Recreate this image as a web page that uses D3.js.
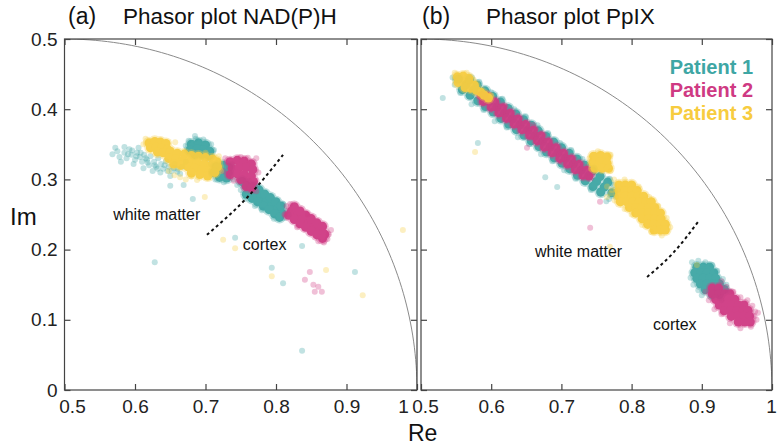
<!DOCTYPE html>
<html><head><meta charset="utf-8">
<script src="https://cdn.jsdelivr.net/npm/d3@7"></script>
<style>body{margin:0;background:#fff}svg{display:block}text{font-family:"Liberation Sans",Arial,Helvetica,sans-serif}</style>
</head><body><svg id="c" width="777" height="446"></svg>
<script>
// ---------------- data ----------------
const xTicks = [0.5, 0.6, 0.7, 0.8, 0.9, 1];
const yTicks = [0, 0.1, 0.2, 0.3, 0.4, 0.5];
const xTickLabels = ["0.5", "0.6", "0.7", "0.8", "0.9", "1"];
const yTickLabels = ["0", "0.1", "0.2", "0.3", "0.4", "0.5"];
const panelTags = ["(a)", "(b)"];
const panelTitles = ["Phasor plot NAD(P)H", "Phasor plot PpIX"];
const patients = ["Patient 1", "Patient 2", "Patient 3"];
const regionLabels = ["white matter", "cortex"];

// NAD(P)H panel — dense cores and sparse points [Re, Im]
const nadhP1Dense = [[0.680,0.350],[0.690,0.352],[0.700,0.349],[0.678,0.342],[0.688,0.343],[0.698,0.342],[0.706,0.340],[0.685,0.336],[0.695,0.336],[0.705,0.334],
 [0.715,0.318],[0.725,0.320],[0.733,0.317],[0.712,0.310],[0.722,0.311],[0.732,0.309],[0.720,0.303],[0.730,0.302],
 [0.762,0.285],[0.770,0.279],[0.778,0.274],[0.786,0.268],[0.794,0.263],[0.802,0.257],[0.808,0.252],
 [0.768,0.290],[0.776,0.285],[0.784,0.279],[0.792,0.274],[0.800,0.268],[0.807,0.262],
 [0.758,0.279],[0.766,0.273],[0.774,0.268],[0.782,0.262],[0.790,0.257],[0.798,0.251],[0.805,0.246],
 [0.757,0.292],[0.752,0.297]];
const nadhP1Sparse = [[0.568,0.336],[0.575,0.340],[0.578,0.332],[0.585,0.338],[0.588,0.330],[0.592,0.343],[0.595,0.335],[0.600,0.328],[0.603,0.338],[0.607,0.332],[0.610,0.325],[0.613,0.335],[0.617,0.328],[0.620,0.320],[0.622,0.333],[0.627,0.325],[0.630,0.318],[0.633,0.330],[0.637,0.322],[0.640,0.315],[0.644,0.326],[0.648,0.318],[0.652,0.312],[0.656,0.322],[0.660,0.315],[0.664,0.308],[0.585,0.346],[0.598,0.322],[0.612,0.316],[0.625,0.312],[0.572,0.345],[0.580,0.325],[0.605,0.345],[0.636,0.310],[0.650,0.305],[0.667,0.318],[0.672,0.325],
 [0.590,0.336],[0.602,0.333],[0.615,0.330],[0.628,0.320],[0.642,0.320],[0.655,0.316],[0.596,0.341],[0.608,0.338],[0.618,0.324],[0.632,0.315],[0.646,0.312],[0.660,0.311],
 [0.672,0.348],[0.676,0.355],[0.686,0.358],[0.697,0.357],[0.708,0.350],[0.712,0.342],[0.685,0.362],
 [0.708,0.322],[0.718,0.326],[0.738,0.322],[0.740,0.300],[0.726,0.296],[0.714,0.300],
 [0.755,0.290],[0.750,0.285],[0.812,0.245],[0.815,0.255],[0.797,0.244],[0.780,0.256],[0.770,0.262],[0.756,0.272],[0.810,0.265],[0.818,0.250],[0.762,0.298],[0.745,0.292],
 [0.650,0.291],[0.682,0.272],[0.742,0.217],[0.794,0.174],[0.810,0.152],[0.837,0.205],[0.912,0.168],[0.837,0.056],[0.628,0.182],[0.669,0.292]];
const nadhP2Dense = [[0.735,0.325],[0.745,0.327],[0.755,0.326],[0.765,0.322],[0.738,0.316],[0.748,0.317],[0.758,0.317],[0.767,0.314],[0.735,0.307],[0.745,0.308],[0.755,0.307],[0.765,0.305],[0.750,0.300],[0.760,0.298],[0.768,0.297],[0.758,0.290],[0.765,0.288],
 [0.822,0.255],[0.830,0.249],[0.838,0.243],[0.846,0.238],[0.854,0.232],[0.862,0.227],[0.869,0.222],
 [0.826,0.261],[0.834,0.255],[0.842,0.249],[0.850,0.244],[0.858,0.238],[0.866,0.233],
 [0.818,0.249],[0.826,0.243],[0.834,0.237],[0.842,0.232],[0.850,0.226],[0.858,0.221],[0.866,0.216]];
const nadhP2Sparse = [[0.728,0.330],[0.772,0.330],[0.775,0.310],[0.740,0.298],[0.772,0.283],[0.725,0.312],[0.750,0.332],[0.760,0.331],
 [0.815,0.262],[0.812,0.250],[0.875,0.222],[0.873,0.215],[0.860,0.212],[0.830,0.232],[0.845,0.250],[0.820,0.265],[0.878,0.228],[0.868,0.210],
 [0.848,0.168],[0.841,0.157],[0.853,0.150],[0.860,0.147],[0.855,0.140],[0.865,0.140]];
const nadhP3Dense = [[0.620,0.352],[0.628,0.354],[0.636,0.353],[0.644,0.351],[0.622,0.345],[0.630,0.346],[0.638,0.345],[0.646,0.343],[0.632,0.339],[0.640,0.338],[0.650,0.340],
 [0.650,0.338],[0.660,0.337],[0.670,0.336],[0.680,0.334],[0.690,0.333],[0.700,0.331],[0.710,0.329],[0.716,0.325],
 [0.648,0.330],[0.658,0.329],[0.668,0.327],[0.678,0.326],[0.688,0.324],[0.698,0.322],[0.708,0.320],[0.717,0.318],
 [0.655,0.322],[0.665,0.320],[0.675,0.318],[0.685,0.316],[0.695,0.314],[0.705,0.312],[0.713,0.310],
 [0.680,0.309],[0.692,0.307],[0.703,0.305]];
const nadhP3Sparse = [[0.648,0.312],[0.656,0.306],[0.664,0.303],[0.672,0.300],[0.680,0.304],[0.688,0.299],[0.657,0.353],[0.612,0.350],[0.615,0.358],[0.700,0.338],[0.719,0.333],[0.722,0.312],
 [0.699,0.275],[0.725,0.214],[0.742,0.202],[0.794,0.162],[0.871,0.171],[0.923,0.135],[0.980,0.228]];

// PpIX panel
const ppixP1Dense = [[0.553,0.443],[0.564,0.435],[0.575,0.427],[0.586,0.419],[0.597,0.411],[0.608,0.403],[0.619,0.394],[0.630,0.386],[0.641,0.378],[0.652,0.370],[0.662,0.362],[0.673,0.354],[0.684,0.346],[0.695,0.338],[0.706,0.330],[0.717,0.322],[0.728,0.313],[0.739,0.305],[0.750,0.297],[0.761,0.289],[0.772,0.281],
 [0.569,0.442],[0.580,0.434],[0.591,0.426],[0.602,0.418],[0.613,0.410],[0.624,0.401],[0.635,0.393],[0.646,0.385],[0.657,0.377],[0.667,0.369],[0.678,0.361],[0.689,0.353],[0.700,0.345],[0.711,0.337],[0.722,0.329],[0.733,0.320],[0.744,0.312],[0.755,0.304],[0.766,0.296],
 [0.559,0.428],[0.570,0.420],[0.581,0.412],[0.592,0.404],[0.603,0.396],[0.614,0.387],[0.625,0.379],[0.636,0.371],[0.647,0.363],[0.657,0.355],[0.668,0.347],[0.679,0.339],[0.690,0.331],[0.701,0.323],[0.712,0.315],[0.723,0.306],[0.734,0.298],[0.745,0.290],[0.756,0.282],
 [0.893,0.175],[0.902,0.175],[0.911,0.175],[0.890,0.167],[0.899,0.167],[0.908,0.167],[0.917,0.167],[0.893,0.159],[0.902,0.159],[0.911,0.159],[0.920,0.159],[0.898,0.151],[0.907,0.151],[0.916,0.151],[0.925,0.151],[0.905,0.143],[0.914,0.143],[0.923,0.143],[0.932,0.143],[0.915,0.136],[0.925,0.136]];
const ppixP1Sparse = [[0.531,0.416],[0.581,0.352],[0.677,0.303],[0.694,0.289],
 [0.583,0.439],[0.616,0.415],[0.649,0.390],[0.681,0.366],[0.714,0.342],[0.747,0.317],[0.769,0.301],
 [0.556,0.423],[0.589,0.399],[0.622,0.374],[0.654,0.350],[0.687,0.326],[0.720,0.301],[0.742,0.285],[0.764,0.269],
 [0.600,0.424],[0.633,0.400],[0.666,0.377],[0.698,0.352],[0.730,0.329],[0.572,0.407],[0.605,0.383],[0.638,0.360],[0.671,0.336],[0.704,0.313],
 [0.778,0.275],[0.780,0.285],[0.775,0.292],[0.768,0.272],[0.545,0.445],[0.548,0.435],
 [0.886,0.182],[0.895,0.184],[0.905,0.182],[0.915,0.178],[0.922,0.170],[0.884,0.160],[0.888,0.150],[0.930,0.158],[0.935,0.150],[0.895,0.142],[0.900,0.135],[0.940,0.140],[0.928,0.128]];
const ppixP2Dense = [[0.586,0.419],[0.597,0.411],[0.608,0.403],[0.619,0.394],[0.630,0.386],[0.641,0.378],[0.652,0.370],[0.662,0.362],[0.673,0.354],[0.684,0.346],[0.695,0.338],[0.706,0.330],[0.717,0.322],[0.728,0.313],[0.739,0.305],
 [0.594,0.418],[0.605,0.410],[0.616,0.402],[0.627,0.394],[0.638,0.386],[0.649,0.378],[0.660,0.370],[0.671,0.362],[0.681,0.353],[0.692,0.345],[0.703,0.337],[0.714,0.329],[0.725,0.321],[0.736,0.313],
 [0.589,0.411],[0.600,0.403],[0.611,0.395],[0.622,0.387],[0.633,0.379],[0.644,0.371],[0.655,0.363],[0.666,0.355],[0.676,0.346],[0.687,0.338],[0.698,0.330],[0.709,0.322],[0.720,0.314],[0.731,0.306],
 [0.915,0.145],[0.924,0.145],[0.915,0.137],[0.924,0.137],[0.933,0.137],[0.940,0.137],[0.920,0.129],[0.929,0.129],[0.938,0.129],[0.947,0.129],[0.925,0.121],[0.934,0.121],[0.943,0.121],[0.952,0.121],[0.960,0.121],[0.932,0.113],[0.941,0.113],[0.950,0.113],[0.959,0.113],[0.966,0.113],[0.942,0.105],[0.951,0.105],[0.960,0.105],[0.968,0.105],[0.952,0.097],[0.961,0.097],[0.969,0.097]];
const ppixP2Sparse = [[0.620,0.405],[0.660,0.378],[0.700,0.325],[0.745,0.308],[0.651,0.345],[0.755,0.268],[0.741,0.231],
 [0.905,0.140],[0.910,0.128],[0.918,0.115],[0.928,0.108],[0.940,0.095],[0.955,0.088],[0.970,0.090],[0.978,0.100],[0.980,0.110],[0.972,0.120],[0.965,0.128],[0.955,0.132],[0.945,0.140],[0.935,0.147],[0.928,0.155],[0.975,0.105],[0.976,0.112]];
const ppixP3Dense = [[0.552,0.446],[0.560,0.447],[0.568,0.444],[0.553,0.438],[0.561,0.439],[0.569,0.437],[0.576,0.434],[0.563,0.431],[0.571,0.430],[0.579,0.427],[0.585,0.424],[0.590,0.420],[0.596,0.416],
 [0.746,0.333],[0.756,0.334],[0.765,0.332],[0.745,0.324],[0.755,0.325],[0.765,0.323],[0.748,0.316],[0.758,0.316],[0.767,0.316],
 [0.782,0.292],[0.791,0.292],[0.800,0.292],[0.782,0.284],[0.791,0.284],[0.800,0.284],[0.808,0.284],[0.782,0.276],[0.791,0.276],[0.800,0.276],[0.809,0.276],[0.817,0.276],
 [0.784,0.268],[0.793,0.268],[0.802,0.268],[0.811,0.268],[0.820,0.268],[0.828,0.268],[0.797,0.260],[0.806,0.260],[0.815,0.260],[0.824,0.260],[0.833,0.260],
 [0.806,0.252],[0.815,0.252],[0.824,0.252],[0.833,0.252],[0.841,0.252],[0.815,0.244],[0.824,0.244],[0.833,0.244],[0.842,0.244],[0.823,0.236],[0.832,0.236],[0.841,0.236],[0.848,0.236],[0.832,0.228],[0.841,0.228],[0.848,0.228]];
const ppixP3Sparse = [[0.577,0.339],[0.769,0.204],[0.893,0.178],[0.548,0.452],[0.565,0.452],[0.575,0.442],[0.600,0.420],[0.740,0.330],[0.770,0.335],[0.752,0.340],[0.742,0.315],[0.770,0.312],
 [0.775,0.300],[0.772,0.285],[0.776,0.270],[0.790,0.300],[0.810,0.290],[0.825,0.275],[0.838,0.262],[0.850,0.245],[0.855,0.232],[0.843,0.220],[0.828,0.225],[0.815,0.235],[0.800,0.250],[0.790,0.258],[0.770,0.280],[0.765,0.290],[0.765,0.275]];

// dashed white-matter / cortex boundaries
const boundaryNadh = [[0.702,0.221],[0.758,0.273],[0.810,0.335]];
const boundaryPpix = [[0.822,0.161],[0.859,0.195],[0.895,0.240]];

// ---------------- drawing ----------------
const colors = ["#3ea6a4", "#cf3a83", "#f7cc3f"];
const svg = d3.select("#c");
const yScale = d3.scaleLinear().domain([0, 0.5]).range([390, 39]);

const panels = [
  {x0: 64.5, x1: 417, dense: [nadhP1Dense, nadhP2Dense, nadhP3Dense], sparse: [nadhP1Sparse, nadhP2Sparse, nadhP3Sparse], boundary: boundaryNadh,
   labels: [[0.569, 0.242], [0.753, 0.1994]], tagX: 68, titleX: 123, yLabels: true, labelShift: [7.5, 0, 0, 0, 0, -14]},
  {x0: 421, x1: 772, dense: [ppixP1Dense, ppixP2Dense, ppixP3Dense], sparse: [ppixP1Sparse, ppixP2Sparse, ppixP3Sparse], boundary: boundaryPpix,
   labels: [[0.6624, 0.1895], [0.8305, 0.0855]], tagX: 422, titleX: 486, yLabels: false, labelShift: [4, 0, 0, 0, 0, -1]}
];

const frameColor = "#444";

panels.forEach((p, pi) => {
  const x = d3.scaleLinear().domain([0.5, 1]).range([p.x0, p.x1]);
  const y = yScale;
  const g = svg.append("g");
  const clipId = "clip" + pi;
  svg.append("clipPath").attr("id", clipId).append("rect")
    .attr("x", p.x0).attr("y", 39).attr("width", p.x1 - p.x0).attr("height", 351);

  const plot = g.append("g").attr("clip-path", `url(#${clipId})`);

  // universal semicircle
  const arcPts = d3.range(0, 181).map(i => {
    const t = Math.PI * i / 180;
    return [0.5 + 0.5 * Math.cos(t), 0.5 * Math.sin(t)];
  });
  plot.append("path").datum(arcPts)
    .attr("d", d3.line().x(d => x(d[0])).y(d => y(d[1])))
    .attr("fill", "none").attr("stroke", "#8a8a8a").attr("stroke-width", 1);

  // points: sparse translucent dots, dense cores drawn as one translucent layer
  [0, 1, 2].forEach(k => {
    plot.append("g").selectAll("circle").data(p.sparse[k]).join("circle")
      .attr("cx", d => x(d[0])).attr("cy", d => y(d[1])).attr("r", 3)
      .attr("fill", colors[k]).attr("fill-opacity", 0.32);
    const halo = plot.append("g").attr("opacity", 0.35);
    halo.selectAll("circle").data(p.dense[k]).join("circle")
      .attr("cx", d => x(d[0])).attr("cy", d => y(d[1])).attr("r", 6.2)
      .attr("fill", colors[k]);
    const core = plot.append("g").attr("opacity", 0.92);
    core.selectAll("circle").data(p.dense[k]).join("circle")
      .attr("cx", d => x(d[0])).attr("cy", d => y(d[1])).attr("r", 4.6)
      .attr("fill", colors[k]);
  });

  // dashed boundary
  plot.append("path").datum(p.boundary)
    .attr("d", d3.line().curve(d3.curveNatural).x(d => x(d[0])).y(d => y(d[1])))
    .attr("fill", "none").attr("stroke", "#111").attr("stroke-width", 2).attr("stroke-dasharray", "3,3");

  // region labels
  regionLabels.forEach((t, i) => {
    g.append("text").attr("x", x(p.labels[i][0])).attr("y", y(p.labels[i][1]))
      .attr("font-size", 16).attr("fill", "#111").text(t);
  });

  // axes (ticks inward)
  const ax = g.append("g").attr("color", frameColor);
  const bottom = ax.append("g").attr("transform", "translate(0,390)")
    .call(d3.axisBottom(x).tickValues(xTicks).tickSizeInner(-6).tickSizeOuter(0).tickPadding(10)
      .tickFormat((d, i) => xTickLabels[i]));
  bottom.selectAll("text").attr("font-size", 19).attr("fill", "#222")
    .attr("font-family", '"Liberation Sans",Arial,sans-serif')
    .attr("dx", (d, i) => p.labelShift[i]);
  ax.append("g").attr("transform", "translate(0,39)")
    .call(d3.axisTop(x).tickValues(xTicks).tickSizeInner(-6).tickSizeOuter(0).tickFormat(""));
  const left = ax.append("g").attr("transform", `translate(${p.x0},0)`)
    .call(d3.axisLeft(y).tickValues(yTicks).tickSizeInner(-6).tickSizeOuter(0).tickPadding(7)
      .tickFormat((d, i) => p.yLabels ? yTickLabels[i] : ""));
  left.selectAll("text").attr("font-size", 19).attr("fill", "#222")
    .attr("font-family", '"Liberation Sans",Arial,sans-serif');
  ax.append("g").attr("transform", `translate(${p.x1},0)`)
    .call(d3.axisRight(y).tickValues(yTicks).tickSizeInner(-6).tickSizeOuter(0).tickFormat(""));
  ax.selectAll(".domain").remove();
  ax.selectAll(".tick line").attr("stroke-width", 1.2);
  g.append("rect").attr("x", p.x0).attr("y", 39).attr("width", p.x1 - p.x0).attr("height", 351)
    .attr("fill", "none").attr("stroke", frameColor).attr("stroke-width", 1.2);

  // titles
  g.append("text").attr("x", p.tagX).attr("y", 24).attr("font-size", 23).attr("fill", "#111").text(panelTags[pi]);
  g.append("text").attr("x", p.titleX).attr("y", 24).attr("font-size", 22.5).attr("fill", "#111").text(panelTitles[pi]);
});

// legend (in PpIX panel)
patients.forEach((t, i) => {
  svg.append("text").attr("x", 753).attr("y", 74 + i * 23).attr("text-anchor", "end")
    .attr("font-size", 20).attr("font-weight", "bold").attr("fill", colors[i]).text(t);
});

// axis titles
svg.append("text").attr("x", 10).attr("y", 225).attr("font-size", 24).attr("fill", "#111").text("Im");
svg.append("text").attr("x", 408).attr("y", 441).attr("font-size", 23).attr("fill", "#111").text("Re");
</script></body></html>
